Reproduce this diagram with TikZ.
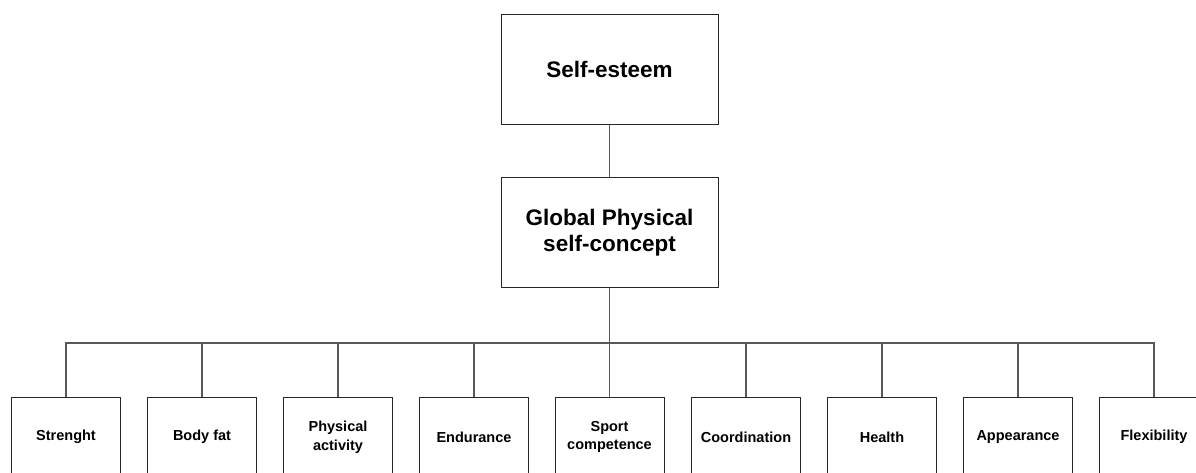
\documentclass[tikz,border=0pt]{standalone}
\usepackage{fontspec}
\setmainfont{Liberation Sans}
\usepackage{tikz}
\tikzset{
  topbox/.style={draw=black!85, line width=1pt, minimum width=217pt, minimum height=110pt,
    align=center, font=\fontsize{22.5}{25.5}\selectfont\bfseries},
  factor/.style={draw=black!85, line width=1pt, minimum width=109pt, minimum height=80pt,
    align=center, font=\fontsize{14.5}{18.5}\selectfont\bfseries},
  link/.style={draw=black!65, line width=1.2pt}
}

\begin{document}
\begin{tikzpicture}[x=1pt, y=-1pt]
  \path[use as bounding box, clip] (0, 0) rectangle (1196, 472);
  \node[topbox] (se) at (609.5, 69) {Self-esteem};
  \node[topbox] (gpsc) at (609.5, 232.5) {Global Physical\\self-concept};
  \coordinate (bus) at (609.5, 343);
  % lower level
  \node[factor] (str) at (66, 437) {Strenght};
  \node[factor] (fat) at (202, 437) {Body fat};
  \node[factor] (act) at (338, 437) {Physical\\activity};
  \node[factor] (end) at (474, 437) {Endurance};
  \node[factor] (spc) at (609.5, 437) {Sport\\competence};
  \node[factor] (coo) at (746, 437) {Coordination};
  \node[factor] (hea) at (882, 437) {Health};
  \node[factor] (app) at (1018, 437) {Appearance};
  \node[factor] (fle) at (1154, 437) {Flexibility};
  \draw[link] (se) -- (gpsc);
  \draw[link] (gpsc) -- (bus);
  \foreach \n in {str, fat, act, end, spc, coo, hea, app, fle}
    \draw[link] (bus) -| (\n.north);
\end{tikzpicture}
\end{document}
